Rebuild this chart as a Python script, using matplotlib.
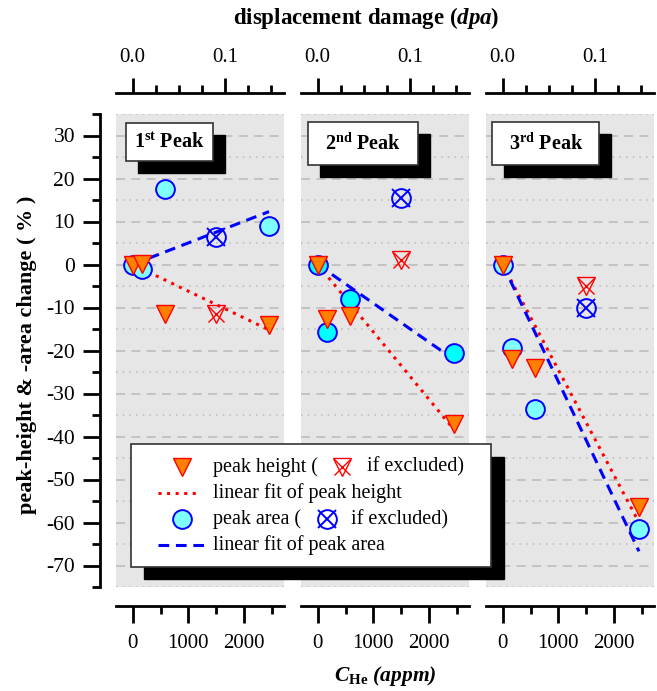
import matplotlib
matplotlib.use("Agg")
import matplotlib.pyplot as plt
from matplotlib.patches import Rectangle
from matplotlib.ticker import MultipleLocator, FixedLocator, FormatStrFormatter

plt.rcParams["font.family"] = ["Liberation Serif", "DejaVu Serif"]
plt.rcParams["mathtext.fontset"] = "custom"
plt.rcParams["mathtext.rm"] = "Liberation Serif"
plt.rcParams["mathtext.it"] = "Liberation Serif:italic"
plt.rcParams["mathtext.bf"] = "Liberation Serif:bold"
plt.rcParams["mathtext.bfit"] = "Liberation Serif:italic:bold"
plt.rcParams["axes.unicode_minus"] = False

# --- data ---
c_he = [0, 170, 580, 1500, 2450]          # appm
excluded = [False, False, False, True, False]

height_p1 = [0.0, 0.2, -11.5, -11.5, -14.0]
area_p1 = [0.0, -1.0, 17.5, 6.5, 9.0]
height_p2 = [0.0, -12.7, -12.0, 1.0, -37.0]
area_p2 = [0.0, -15.7, -8.0, 15.5, -20.5]
height_p3 = [0.0, -22.0, -24.0, -5.0, -56.5]
area_p3 = [0.0, -19.5, -33.5, -10.0, -61.5]

# linear fits through the origin: value at x = fit_x[1]
fit_x = [0, 2450]
fit_height_end = [-15.2, -38.4, -60.0]
fit_area_end = [12.3, -22.1, -66.7]

panel_labels = [r"1$^{\mathbf{st}}$ Peak", r"2$^{\mathbf{nd}}$ Peak", r"3$^{\mathbf{rd}}$ Peak"]
dpa_ticks = [0.0, 0.1]
dpa_minor = [0.025, 0.05, 0.075, 0.125, 0.15]
appm_per_dpa = 16600.0

heights = [height_p1, height_p2, height_p3]
areas = [area_p1, area_p2, area_p3]
circle_fill = ["#80ffff", "#00ffff", "#80ffff"]

ORANGE = "#ff8000"
GRAY_BG = "#e6e6e6"
GRID = "#c0c0c0"

W, H = 657, 691
fig = plt.figure(figsize=(W / 100, H / 100), dpi=100)

left0, pw, gap = 116, 168, 17
top_px, bot_px = 114, 587

for i in range(3):
    l = (left0 + i * (pw + gap)) / W
    ax = fig.add_axes([l, (H - bot_px) / H, pw / W, (bot_px - top_px) / H])
    ax.set_facecolor(GRAY_BG)
    ax.set_xlim(-300, 2720)
    ax.set_ylim(-75, 35)

    ax.yaxis.set_major_locator(MultipleLocator(10))
    ax.yaxis.set_minor_locator(MultipleLocator(5))
    ax.xaxis.set_major_locator(MultipleLocator(1000))
    ax.xaxis.set_minor_locator(MultipleLocator(500))

    ax.grid(which="major", axis="y", color=GRID, lw=1.3, ls=(0, (5, 3.5)))
    ax.grid(which="minor", axis="y", color=GRID, lw=1.2, ls=(0, (1, 3)))
    ax.set_axisbelow(True)

    for s in ("top", "right"):
        ax.spines[s].set_visible(False)
    ax.spines["bottom"].set_position(("outward", 13.7))
    ax.spines["bottom"].set_linewidth(2)
    ax.tick_params(axis="x", which="major", length=12, width=2, direction="out",
                   labelsize=15, pad=8)
    ax.tick_params(axis="x", which="minor", length=6, width=2, direction="out")

    if i == 0:
        ax.spines["left"].set_position(("outward", 11.5))
        ax.spines["left"].set_linewidth(2)
        ax.tick_params(axis="y", which="major", length=12, width=2, direction="out",
                       labelsize=15.5, pad=6)
        ax.tick_params(axis="y", which="minor", length=6, width=2, direction="out")
    else:
        ax.spines["left"].set_visible(False)
        ax.tick_params(axis="y", which="both", left=False, labelleft=False)

    # top axis in dpa
    sec = ax.secondary_xaxis(1.044, functions=(lambda x: x / appm_per_dpa,
                                               lambda d: d * appm_per_dpa))
    sec.xaxis.set_major_locator(FixedLocator(dpa_ticks))
    sec.xaxis.set_minor_locator(FixedLocator(dpa_minor))
    sec.xaxis.set_major_formatter(FormatStrFormatter("%.1f"))
    sec.spines["top"].set_linewidth(2)
    sec.tick_params(which="major", length=11, width=2, direction="out",
                    labelsize=15, pad=8)
    sec.tick_params(which="minor", length=5.5, width=2, direction="out")

    # fit lines
    ax.plot(fit_x, [0, fit_height_end[i]], color="red", lw=2.2, ls=(0, (1, 1.8)),
            zorder=2)
    ax.plot(fit_x, [0, fit_area_end[i]], color="blue", lw=2.2, ls=(0, (3.5, 2.2)),
            zorder=2)

    # data points
    for x, h, a, ex in zip(c_he, heights[i], areas[i], excluded):
        if ex:
            ax.plot(x, a, "o", ms=13.5, mfc="none", mec="blue", mew=1.4, zorder=3)
            ax.plot(x, a, "x", ms=13, mec="blue", mew=1.4, zorder=3)
            ax.plot(x, h, "v", ms=13, mfc="none", mec="red", mew=1, zorder=4)
            ax.plot(x, h, "x", ms=12, mec="red", mew=1, zorder=4)
        else:
            ax.plot(x, a, "o", ms=13.5, mfc=circle_fill[i], mec="blue", mew=1.4,
                    zorder=3)
    xs = [x for x, ex in zip(c_he, excluded) if not ex]
    hs = [h for h, ex in zip(heights[i], excluded) if not ex]
    ax.plot(xs, hs, "v", ls="none", ms=13, mfc=ORANGE, mec="red", mew=1, zorder=4)

# overlay in pixel coordinates for boxes and legend
ov = fig.add_axes([0, 0, 1, 1], zorder=10)
ov.set_xlim(0, W)
ov.set_ylim(H, 0)
ov.axis("off")
ov.patch.set_visible(False)

boxes = [(125.7, 122.7, 87, 38.3), (308.3, 122.3, 109.7, 42.4), (492.3, 122.3, 107, 42.4)]
for (bx, by, bw, bh), lab in zip(boxes, panel_labels):
    ov.add_patch(Rectangle((bx + 12, by + 12), bw, bh, facecolor="black",
                           edgecolor="black"))
    ov.add_patch(Rectangle((bx, by), bw, bh, facecolor="white", edgecolor="#333333",
                           lw=1.2))
    ov.text(bx + bw / 2, by + bh / 2 + 1, lab, fontsize=14.5, fontweight="bold",
            ha="center", va="center")

# legend
lx, ly, lw_, lh = 130.7, 444, 360, 122.7
ov.add_patch(Rectangle((lx + 13, ly + 12.5), lw_, lh, facecolor="black",
                       edgecolor="black"))
ov.add_patch(Rectangle((lx, ly), lw_, lh, facecolor="white", edgecolor="#333333",
                       lw=1.2))
rows = [466.7, 492.7, 519.3, 545.3]
tx = 212.7
fs = 14.5
ov.plot(181.7, rows[0], "v", ms=13, mfc=ORANGE, mec="red", mew=1)
ov.text(tx, rows[0], "peak height (", fontsize=fs, va="center")
ov.plot(341.7, rows[0], "v", ms=13, mfc="none", mec="red", mew=1)
ov.plot(341.7, rows[0], "x", ms=12, mec="red", mew=1)
ov.text(366.7, rows[0], "if excluded)", fontsize=fs, va="center")

ov.plot([158.3, 199.3], [rows[1], rows[1]], color="red", lw=2.2, ls=(0, (1, 1.8)))
ov.text(tx, rows[1], "linear fit of peak height", fontsize=fs, va="center")

ov.plot(181.7, rows[2], "o", ms=13.5, mfc="#80ffff", mec="blue", mew=1.4)
ov.text(tx, rows[2], "peak area (", fontsize=fs, va="center")
ov.plot(326.7, rows[2], "o", ms=13.5, mfc="none", mec="blue", mew=1.4)
ov.plot(326.7, rows[2], "x", ms=13, mec="blue", mew=1.4)
ov.text(350.7, rows[2], "if excluded)", fontsize=fs, va="center")

ov.plot([158.3, 208.3], [rows[3], rows[3]], color="blue", lw=2.2, ls=(0, (3.5, 2.2)))
ov.text(tx, rows[3], "linear fit of peak area", fontsize=fs, va="center")

# axis titles
fig.text(366 / W, 1 - 18 / H, r"displacement damage ($\mathbfit{dpa}$)", fontsize=16.5,
         fontweight="bold", ha="center", va="center")
fig.text(385 / W, 1 - 676 / H, r"$\mathbfit{C}_{\mathbf{He}}$ $\mathbfit{(appm)}$",
         fontsize=15.5, ha="center", va="center")
fig.text(26.7 / W, 1 - 355 / H, "peak-height & -area change ( % )", fontsize=16,
         fontweight="bold", rotation=90, ha="center", va="center")

fig.savefig("out.png", dpi=100)
